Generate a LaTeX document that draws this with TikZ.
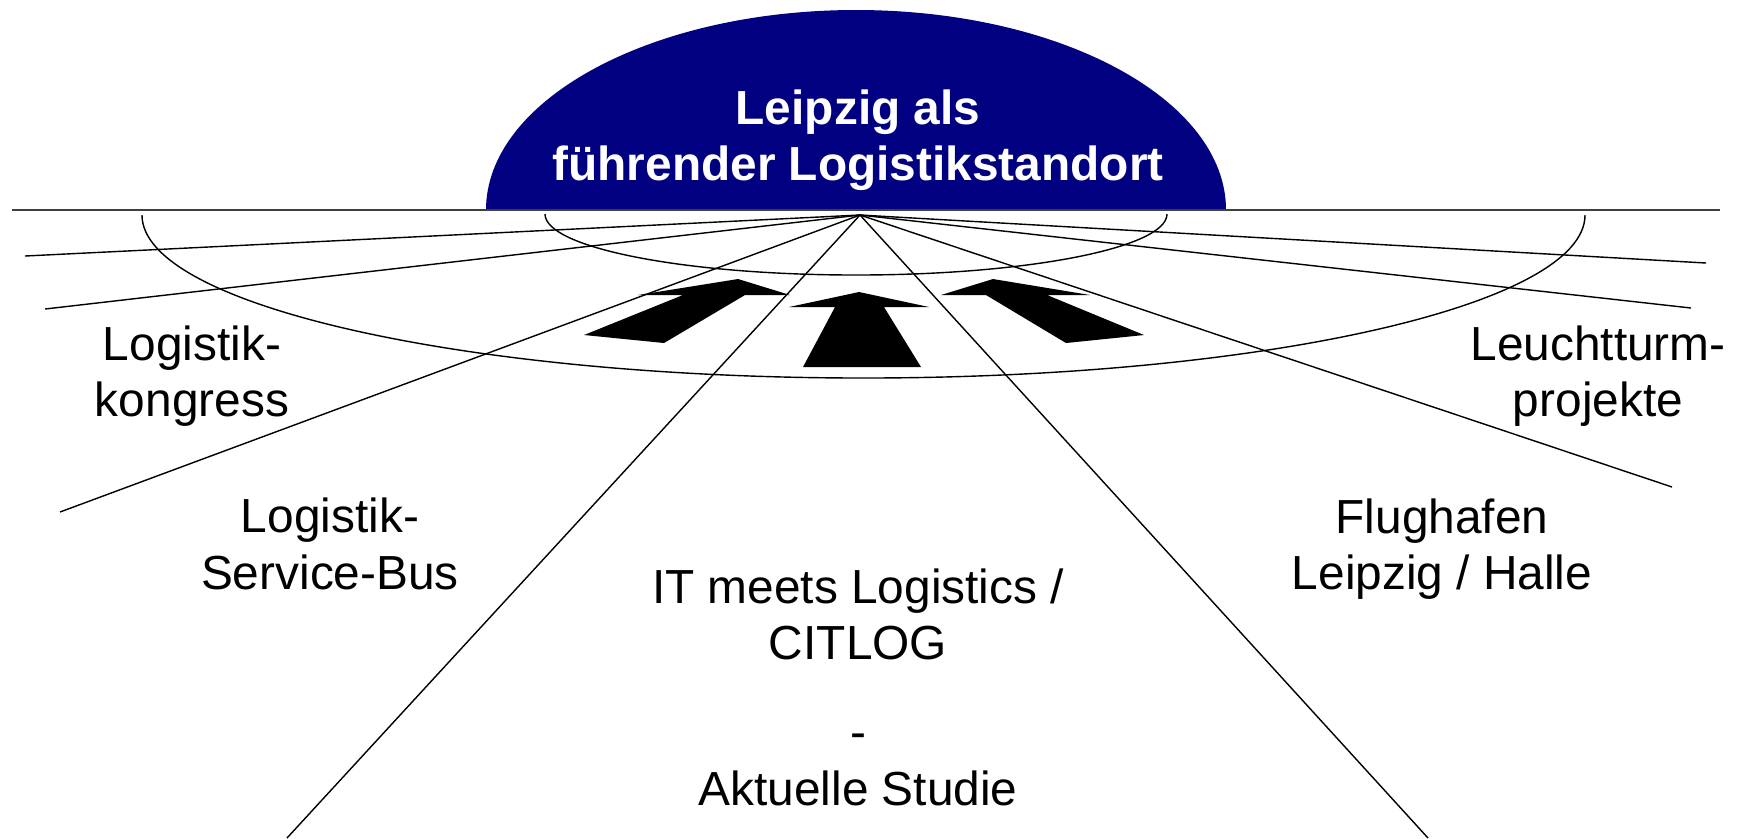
\documentclass[tikz,border=0pt]{standalone}
\usepackage{fontspec}
\setmainfont{Liberation Sans}
\definecolor{domeblue}{RGB}{0,0,128}
\tikzset{
  mylabel/.style={inner sep=0pt,align=center,font=\fontsize{13.6}{16.1}\selectfont},
  mytitle/.style={mylabel,text=white,font=\fontsize{13.6}{15.9}\selectfont\bfseries},
  myray/.style={black,line width=0.4pt},
  myarrow/.style={fill=black}
}
\begin{document}
\begin{tikzpicture}[x=0.01cm,y=-0.01cm]
        \useasboundingbox (0,0) rectangle (1737,838);
        % dome with the goal
        \fill[domeblue] (486,210) arc[start angle=180,end angle=360,x radius=370,y radius=200] -- cycle;
        \node[mytitle] (goal) at (858,140) {Leipzig als\\führender Logistikstandort};
        % horizon and rays
        \coordinate (hleft) at (12,210);
        \coordinate (hright) at (1720,210);
        \draw[black!75,line width=0.6pt] (hleft) -- (hright);
        \coordinate (vp) at (860,215);
        \foreach \x/\y [count=\i] in {25/256,45/309,60/512,287/838,1428/838,1672/487,1691/308,1706/263}{
          \coordinate (ray\i) at (\x,\y);
          \draw[myray] (vp) -- (ray\i);
        }
        % arcs
        \draw[myray] (142,215) arc[start angle=180,end angle=0,x radius=721.5,y radius=163];
        \draw[myray] (545,214) arc[start angle=180,end angle=0,x radius=311,y radius=61];
        % arrows
        \fill[myarrow] (584,335) -- (683,295) -- (638,295) -- (738,279) -- (790,295) -- (745,295) -- (664,343) -- cycle;
        \fill[myarrow] (803,367) -- (835,307) -- (789,307) -- (859,292) -- (929,307) -- (884,307) -- (921,367) -- cycle;
        \fill[myarrow] (1066,343) -- (986,295) -- (941,295) -- (993,279) -- (1090,295) -- (1047,295) -- (1144,335) -- cycle;
        % labels
        \node[mylabel] (kongress) at (192,376) {Logistik-\\kongress};
        \node[mylabel] (servicebus) at (330,544) {Logistik-\\Service-Bus};
        \node[mylabel] (citlog) at (858,687) {IT meets Logistics /\\CITLOG\\[0.32cm]-\\Aktuelle Studie};
        \node[mylabel] (flughafen) at (1442,549) {Flughafen\\Leipzig / Halle};
        \node[mylabel] (leuchtturm) at (1598,376) {Leuchtturm-\\projekte};
\end{tikzpicture}
\end{document}
